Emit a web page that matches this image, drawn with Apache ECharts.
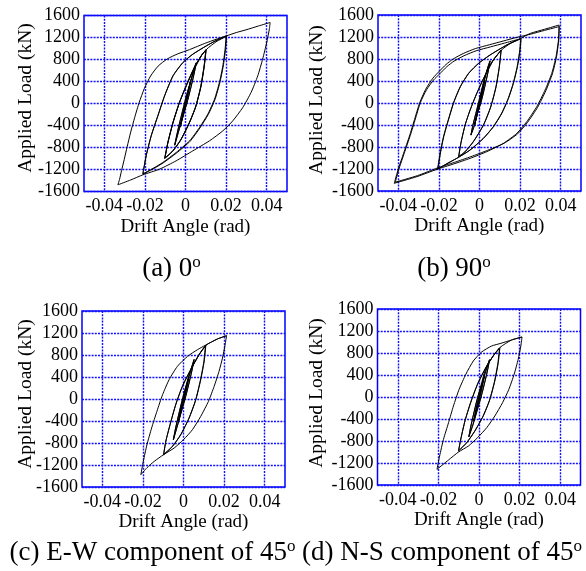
<!DOCTYPE html>
<html>
<head>
<meta charset="utf-8">
<script src="https://cdn.jsdelivr.net/npm/echarts@6/dist/echarts.min.js"></script>
<style>html,body{margin:0;padding:0;background:#fff;}#c{width:586px;height:571px;}</style>
</head>
<body>
<div id="c"></div>
<script>
// ---- tick labels ----
const xTickValues = [-0.04, -0.02, 0, 0.02, 0.04];
const xTickLabels = ['-0.04', '-0.02', '0', '0.02', '0.04'];
const yTickValues = [-1600, -1200, -800, -400, 0, 400, 800, 1200, 1600];

// ---- panel (a) 0 deg : [drift (rad), load (kN)] ----
const a_loop0025 = [[0,0],[0.0012,200],[0.0025,400],[0.0014,190],[0,-30],[-0.0013,-230],[-0.0026,-420],[-0.0014,-200],[0,20],[0.0013,220],[0.0025,410],[0.0013,180],[0,-40],[-0.0013,-240],[-0.0026,-425],[-0.0013,-190],[0,10]];
const a_loop005 = [[0.0015,250],[0.003,470],[0.0045,670],[0.0052,740],[0.0045,590],[0.003,350],[0.0012,80],[-0.001,-200],[-0.003,-450],[-0.0053,-760],[-0.0045,-620],[-0.003,-380],[-0.001,-80],[0.001,200],[0.003,460],[0.0052,730],[0.0044,570],[0.003,340],[0.001,50],[-0.001,-210],[-0.003,-460],[-0.0053,-750],[-0.0045,-600],[-0.003,-360],[-0.001,-60],[0.001,220]];
const a_loop01 = [[0.0044,620],[0.0077,860],[0.0102,985],[0.0093,685],[0.0077,320],[0.0052,-40],[0.002,-345],[-0.0021,-648],[-0.0062,-860],[-0.0103,-1000],[-0.0087,-709],[-0.0062,-345],[-0.003,18],[0.0003,321],[0.0044,654],[0.0077,866],[0.0101,975],[0.0092,680],[0.0075,300],[0.005,-60],[0.0018,-360],[-0.0023,-660],[-0.0063,-865],[-0.0102,-995],[-0.0086,-700],[-0.006,-330],[-0.0028,30],[0.0005,330],[0.0045,660],[0.0078,870],[0.01,970],[0.0091,670],[0.0074,290],[0.0049,-70],[0.0016,-370],[-0.0025,-670],[-0.0064,-870],[-0.0101,-990]];
const a_loop02 = [[-0.0086,-700],[-0.006,-330],[-0.003,20],[0.0005,340],[0.0045,670],[0.008,880],[0.0105,990],[0.015,1120],[0.02,1220],[0.0195,988],[0.0184,685],[0.0167,382],[0.0143,79],[0.011,-194],[0.0069,-436],[0.002,-679],[-0.0046,-891],[-0.0112,-1073],[-0.016,-1180],[-0.021,-1280],[-0.0194,-951],[-0.0169,-588],[-0.0136,-224],[-0.0103,139],[-0.0062,503],[-0.0013,745],[0.0036,897],[0.0102,1048],[0.015,1140],[0.0203,1230],[0.0197,980],[0.0186,680],[0.0169,375],[0.0145,70],[0.0112,-200],[0.0071,-445],[0.0022,-690],[-0.0044,-900],[-0.011,-1080],[-0.016,-1190],[-0.021,-1285],[-0.0193,-940],[-0.0168,-575],[-0.0135,-210],[-0.0102,150],[-0.006,510],[-0.0011,750],[0.0038,900],[0.0104,1050],[0.015,1145],[0.02,1225]];
const a_loop04 = [[0.025,1290],[0.0298,1339],[0.036,1410],[0.0417,1473],[0.0413,1351],[0.04,1109],[0.038,806],[0.0356,503],[0.0323,200],[0.0282,-73],[0.0233,-315],[0.0184,-497],[0.0118,-679],[0.0036,-861],[-0.0046,-1042],[-0.0128,-1194],[-0.021,-1297],[-0.027,-1390],[-0.0333,-1479],[-0.0325,-1380],[-0.0315,-1220],[-0.0302,-1020],[-0.0287,-780],[-0.027,-520],[-0.025,-250],[-0.0228,20],[-0.0203,270],[-0.0172,500],[-0.0135,680],[-0.009,810],[-0.004,900],[0.002,980],[0.01,1100],[0.02,1230]];

// ---- panel (b) 90 deg ----
const b_loop0025 = [[0,0],[0.0013,210],[0.0026,420],[0.0015,200],[0,-40],[-0.0013,-230],[-0.0025,-410],[-0.0013,-190],[0,30],[0.0013,220],[0.0026,415],[0.0014,190],[0,-50],[-0.0013,-240],[-0.0025,-415],[-0.0012,-180],[0,20]];
const b_loop005 = [[0.0015,270],[0.003,500],[0.0045,700],[0.0052,770],[0.0044,600],[0.003,360],[0.0012,80],[-0.001,-190],[-0.0025,-400],[-0.0042,-580],[-0.0034,-430],[-0.002,-220],[0,60],[0.002,370],[0.0035,580],[0.0052,760],[0.0043,580],[0.0028,330],[0.001,50],[-0.001,-200],[-0.0025,-410],[-0.0042,-585],[-0.0033,-410],[-0.0018,-190],[0,80],[0.002,380]];
const b_loop01 = [[0.0045,650],[0.0069,790],[0.0107,964],[0.0098,660],[0.0082,297],[0.0056,-67],[0.002,-400],[-0.003,-703],[-0.0071,-885],[-0.0103,-976],[-0.0092,-733],[-0.0071,-400],[-0.0046,-127],[-0.0013,176],[0.0028,509],[0.0069,782],[0.0106,955],[0.0097,650],[0.008,280],[0.0054,-80],[0.0018,-410],[-0.0032,-710],[-0.0072,-890],[-0.0102,-970]];
const b_loop02 = [[-0.0091,-720],[-0.007,-390],[-0.0045,-115],[-0.0012,190],[0.003,520],[0.007,790],[0.0107,960],[0.0155,1090],[0.0205,1176],[0.02,964],[0.0187,660],[0.0167,357],[0.0143,85],[0.011,-188],[0.0069,-430],[0.002,-642],[-0.0046,-855],[-0.0112,-1006],[-0.016,-1100],[-0.0207,-1206],[-0.0194,-915],[-0.0178,-620],[-0.0155,-320],[-0.0128,6],[-0.0095,297],[-0.0054,539],[-0.0005,721],[0.0052,873],[0.0134,1054],[0.0203,1165],[0.0198,950],[0.0185,650],[0.0165,345],[0.014,70],[0.0107,-200],[0.0066,-440],[0.0017,-650],[-0.0049,-860],[-0.0114,-1010],[-0.016,-1105],[-0.0205,-1200],[-0.0192,-905],[-0.0176,-610],[-0.0153,-310],[-0.0126,15],[-0.0093,305],[-0.0052,545],[-0.0003,725],[0.0054,877],[0.0136,1058],[0.0205,1180]];
const b_loop04 = [[0.025,1265],[0.032,1340],[0.0392,1418],[0.0391,1300],[0.0389,1145],[0.0377,842],[0.0356,539],[0.0323,236],[0.0282,-67],[0.0233,-339],[0.0184,-551],[0.0118,-733],[0.0036,-885],[-0.0046,-1006],[-0.0128,-1109],[-0.021,-1206],[-0.0308,-1339],[-0.042,-1460],[-0.0399,-1188],[-0.0374,-915],[-0.0345,-600],[-0.032,-300],[-0.0295,0],[-0.0265,250],[-0.023,450],[-0.02,570],[-0.0165,700],[-0.013,800],[-0.008,900],[-0.002,990],[0.005,1060],[0.012,1130],[0.018,1190],[0.025,1250],[0.032,1320],[0.0393,1390],[0.0392,1290],[0.039,1130],[0.0379,830],[0.0359,530],[0.0327,225],[0.0286,-80],[0.0237,-350],[0.0188,-560],[0.0122,-730],[0.004,-860],[-0.0042,-975],[-0.0124,-1080],[-0.0206,-1180],[-0.0305,-1320],[-0.0415,-1440],[-0.0395,-1180],[-0.037,-905],[-0.0341,-590],[-0.0316,-290],[-0.0291,10],[-0.0261,240],[-0.0226,420],[-0.0196,530],[-0.0161,660],[-0.0126,760],[-0.0076,860],[-0.0016,950],[0.0054,1020],[0.0124,1090],[0.0184,1150]];

// ---- panel (c) E-W component of 45 deg ----
const c_loop0025 = [[0,0],[0.0013,200],[0.0026,390],[0.0015,180],[0,-40],[-0.0013,-230],[-0.0026,-420],[-0.0014,-200],[0,20],[0.0013,210],[0.0026,395],[0.0014,170],[0,-50],[-0.0013,-240],[-0.0026,-425],[-0.0013,-180],[0,10]];
const c_loop005 = [[0.0015,240],[0.003,450],[0.0045,640],[0.0052,720],[0.0044,560],[0.003,330],[0.0012,60],[-0.001,-220],[-0.003,-480],[-0.005,-740],[-0.0042,-580],[-0.0028,-350],[-0.001,-80],[0.001,200],[0.003,450],[0.0052,715],[0.0043,545],[0.0029,320],[0.001,40],[-0.001,-230],[-0.003,-490],[-0.005,-745],[-0.0041,-570],[-0.0027,-340],[-0.001,-70],[0.001,210]];
const c_loop01 = [[0.0036,533],[0.0077,806],[0.011,976],[0.0102,685],[0.0085,351],[0.0061,-12],[0.0028,-345],[-0.0013,-648],[-0.0054,-861],[-0.0098,-1012],[-0.0087,-770],[-0.0066,-467],[-0.0038,-103],[-0.0005,230],[0.0036,533],[0.0077,806],[0.0108,968],[0.01,675],[0.0083,340],[0.0059,-25],[0.0026,-355],[-0.0015,-655],[-0.0056,-866],[-0.0098,-1010]];
const c_loop02 = [[-0.0087,-765],[-0.0066,-460],[-0.0038,-95],[-0.0005,240],[0.0036,540],[0.0077,810],[0.011,976],[0.0167,1091],[0.0212,1151],[0.0205,988],[0.0192,745],[0.0175,503],[0.0151,230],[0.0123,-42],[0.0085,-315],[0.0044,-558],[0,-739],[-0.0046,-891],[-0.0098,-1012],[-0.0144,-1133],[-0.018,-1250],[-0.021,-1376],[-0.0198,-1133],[-0.018,-830],[-0.0157,-527],[-0.0131,-224],[-0.0103,79],[-0.0071,351],[-0.003,594],[0.002,776],[0.0069,897],[0.0107,976],[0.0167,1091],[0.0212,1151]];

// ---- panel (d) N-S component of 45 deg ----
const d_loop0025 = [[0,0],[0.0013,190],[0.0026,370],[0.0015,170],[0,-50],[-0.0013,-240],[-0.0026,-430],[-0.0014,-210],[0,10],[0.0013,200],[0.0026,375],[0.0014,160],[0,-60],[-0.0013,-250],[-0.0026,-435],[-0.0013,-190],[0,0]];
const d_loop005 = [[0.0015,230],[0.003,430],[0.0045,610],[0.0052,680],[0.0044,520],[0.003,290],[0.0012,20],[-0.001,-250],[-0.003,-500],[-0.005,-720],[-0.0042,-560],[-0.0028,-330],[-0.001,-60],[0.001,200],[0.003,430],[0.0052,675],[0.0043,505],[0.0029,280],[0.001,10],[-0.001,-260],[-0.003,-510],[-0.005,-725],[-0.0041,-550],[-0.0027,-320],[-0.001,-50],[0.001,210]];
const d_loop01 = [[0.0034,533],[0.007,745],[0.0103,897],[0.0095,624],[0.0078,291],[0.0054,-42],[0.0021,-345],[-0.002,-618],[-0.006,-830],[-0.0101,-982],[-0.0088,-739],[-0.0069,-436],[-0.0041,-103],[-0.0007,230],[0.0034,533],[0.007,745],[0.0101,890],[0.0093,615],[0.0076,280],[0.0052,-55],[0.0019,-355],[-0.0022,-625],[-0.0062,-835],[-0.0101,-980]];
const d_loop02 = [[-0.0088,-735],[-0.0069,-430],[-0.0041,-95],[-0.0007,240],[0.0034,540],[0.007,750],[0.0103,900],[0.016,1036],[0.0212,1091],[0.0206,927],[0.0193,685],[0.0173,412],[0.0147,139],[0.0116,-103],[0.0078,-345],[0.0038,-558],[-0.0007,-739],[-0.0052,-891],[-0.0101,-1000],[-0.015,-1145],[-0.0207,-1315],[-0.0194,-1073],[-0.0175,-770],[-0.015,-467],[-0.0126,-164],[-0.0098,139],[-0.0065,412],[-0.0028,655],[0.0013,818],[0.0062,927],[0.0108,976],[0.016,1036],[0.0212,1091]];

const panelData = [
  [].concat(a_loop0025, a_loop005, a_loop01, a_loop02, a_loop04),
  [].concat(b_loop0025, b_loop005, b_loop01, b_loop02, b_loop04),
  [].concat(c_loop0025, c_loop005, c_loop01, c_loop02),
  [].concat(d_loop0025, d_loop005, d_loop01, d_loop02)
];
const captions = [['(a) 0', 'o'], ['(b) 90', 'o'], ['(c) E-W component of 45', 'o'], ['(d) N-S component of 45', 'o']];

// ---- layout ----
const FONT = 'Liberation Serif';
const grids = [
  {left: 84, top: 15.5, width: 203, height: 176},
  {left: 378, top: 15, width: 203, height: 176},
  {left: 82, top: 311, width: 203, height: 176},
  {left: 377.5, top: 309, width: 203, height: 176}
];
const yTitlePos = [[26, 98], [317, 100], [26, 394], [317, 393]];
const xTitlePos = [[185.5, 227], [479.5, 226.5], [183.5, 522], [479, 520]];
const capPos = [[171.5, 269], [454, 269], [152.5, 553], [442, 553]];

const chart = echarts.init(document.getElementById('c'), null, {renderer: 'canvas'});
const xFmt = v => { const i = xTickValues.findIndex(t => Math.abs(t - v) < 1e-9); return i >= 0 ? xTickLabels[i] : ''; };
const gridLine = {show: true, lineStyle: {color: '#1010ff', width: 1.4, type: [2, 1.2]}};

const option = {
  animation: false,
  backgroundColor: '#fff',
  grid: grids.map(g => Object.assign({show: true, borderColor: '#0000ff', borderWidth: 1.5, outerBoundsMode: 'none', containLabel: false}, g)),
  xAxis: grids.map((g, i) => ({
    type: 'value', gridIndex: i, min: -0.05, max: 0.05,
    axisLine: {show: false},
    axisTick: {show: false, customValues: xTickValues},
    axisLabel: {customValues: xTickValues, formatter: xFmt, fontFamily: FONT, fontSize: 18, color: '#000', margin: 6},
    splitLine: gridLine
  })),
  yAxis: grids.map((g, i) => ({
    type: 'value', gridIndex: i, min: -1600, max: 1600, interval: 400,
    axisLine: {show: false},
    axisTick: {show: false},
    axisLabel: {formatter: v => String(v), fontFamily: FONT, fontSize: 18, color: '#000', margin: 4},
    splitLine: gridLine
  })),
  series: panelData.map((d, i) => ({
    type: 'line', xAxisIndex: i, yAxisIndex: i, data: d,
    showSymbol: false, symbol: 'none', smooth: 0.2,
    lineStyle: {color: '#000', width: 1}
  })),
  graphic: [].concat(
    yTitlePos.map(p => ({type: 'text', x: p[0], y: p[1], rotation: Math.PI / 2,
      style: {text: 'Applied Load (kN)', font: '19.5px "' + FONT + '"', fill: '#000', textAlign: 'center', textVerticalAlign: 'middle'}})),
    xTitlePos.map(p => ({type: 'text', x: p[0], y: p[1],
      style: {text: 'Drift Angle (rad)', font: '19px "' + FONT + '"', fill: '#000', textAlign: 'center', textVerticalAlign: 'middle'}})),
    capPos.map((p, i) => ({type: 'text', x: p[0], y: p[1],
      style: {text: '{m|' + captions[i][0] + '}{s|' + captions[i][1] + '}', textAlign: 'center', textVerticalAlign: 'middle',
        rich: {m: {fontSize: 27, fontFamily: FONT, fill: '#000', lineHeight: 30},
               s: {fontSize: 17, fontFamily: FONT, fill: '#000', lineHeight: 14, verticalAlign: 'top'}}}}))
  )
};
chart.setOption(option);
</script>
</body>
</html>
